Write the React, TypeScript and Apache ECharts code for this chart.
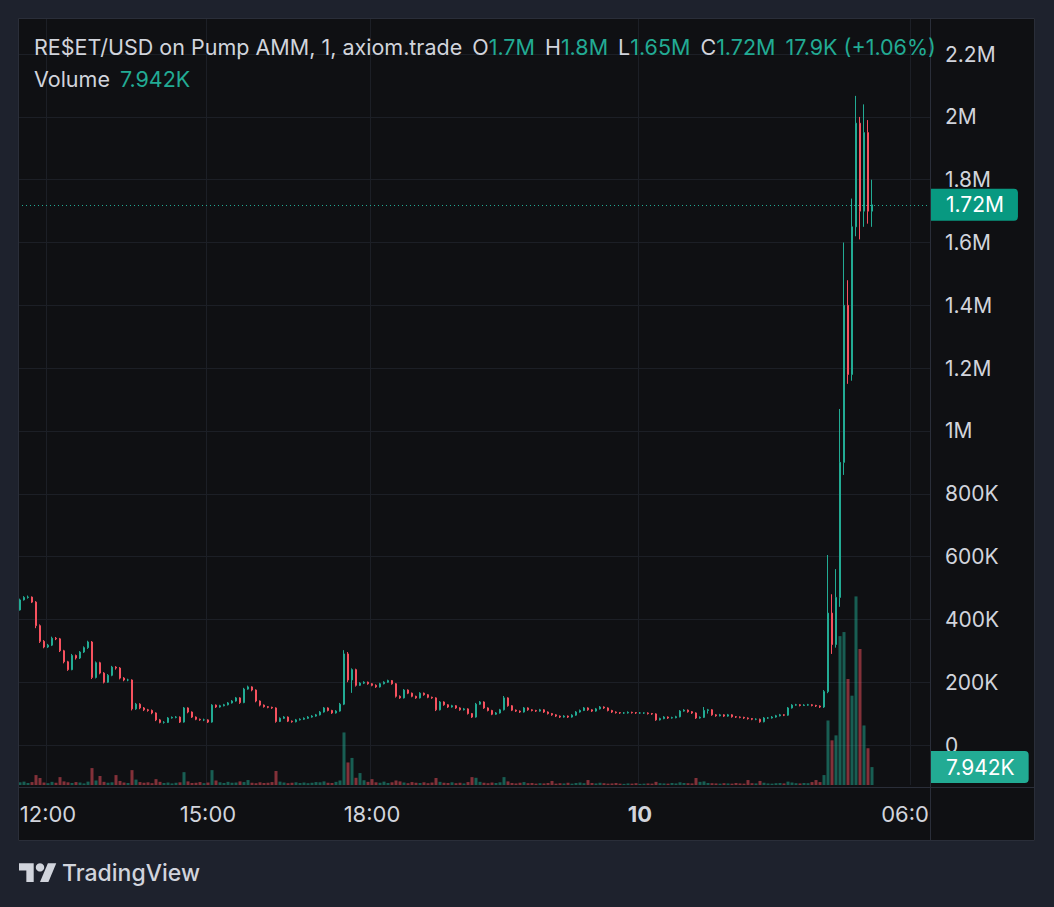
import React, { useEffect, useRef } from 'react';
import * as echarts from 'echarts';

// One candle per category: [open, close, low, high], prices in thousands of USD
const candles: number[][] = [
  [430,462,428,466],[462,470,460,474],[470,471,466,476],[471,455,452,473],[455,380,372,458],
  [380,330,325,384],[330,312,308,334],[312,318,309,322],[318,340,315,345],[340,338,334,344],
  [338,300,296,341],[300,265,260,303],[265,240,236,268],[240,285,238,290],[285,277,272,288],
  [277,296,274,299],[296,310,293,314],[310,328,306,332],[328,215,210,331],[215,262,212,266],
  [262,229,225,265],[229,200,196,232],[200,222,198,226],[222,248,219,252],[248,245,240,251],
  [245,213,209,248],[213,207,203,216],[207,207,203,211],[207,115,110,209],[115,130,112,134],
  [130,118,114,133],[118,112,108,121],[112,110,106,115],[110,102,98,113],[102,80,76,104],
  [80,72,69,83],[72,72,68,76],[72,86,70,89],[86,88,84,91],[88,89,85,92],
  [89,73,70,91],[73,118,71,121],[118,105,101,120],[105,89,86,107],[89,82,79,91],
  [82,80,77,84],[80,80,76,84],[80,73,70,82],[73,127,71,130],[127,121,118,129],
  [121,125,119,128],[125,128,123,131],[128,134,126,137],[134,140,132,143],[140,150,138,153],
  [150,135,131,152],[135,178,133,182],[178,185,176,189],[185,175,171,187],[175,140,136,177],
  [140,127,123,142],[127,122,119,129],[122,120,117,124],[120,118,115,122],[118,75,71,120],
  [75,85,73,88],[85,89,83,92],[89,76,73,91],[76,74,71,78],[74,80,72,83],
  [80,82,78,85],[82,85,80,88],[85,89,83,92],[89,92,87,95],[92,96,90,99],
  [96,105,94,108],[105,118,103,121],[118,110,107,120],[110,102,99,112],[102,108,100,111],
  [108,130,106,134],[130,290,127,302],[290,207,200,296],[207,240,166,244],[240,190,186,243],
  [190,197,188,200],[197,200,194,203],[200,195,192,202],[195,190,187,197],[190,185,182,193],
  [185,195,183,198],[195,200,193,203],[200,205,198,208],[205,195,192,207],[195,155,151,197],
  [155,150,147,158],[150,175,148,178],[175,165,162,177],[165,155,152,167],[155,150,147,157],
  [150,165,148,168],[165,160,157,167],[160,152,149,162],[152,150,147,154],[150,112,108,152],
  [112,137,110,140],[137,128,125,139],[128,121,118,130],[121,125,119,128],[125,118,115,127],
  [118,112,109,120],[112,115,110,118],[115,100,97,117],[100,89,86,102],[89,130,87,134],
  [130,137,128,140],[137,118,115,139],[118,110,107,120],[110,98,95,112],[98,102,96,105],
  [102,112,100,115],[112,150,110,156],[150,125,122,152],[125,111,108,127],[111,108,105,113],
  [108,105,102,110],[105,118,103,121],[118,112,109,120],[112,110,107,114],[110,108,105,112],
  [108,112,106,115],[112,105,102,114],[105,100,97,107],[100,96,93,102],[96,92,89,98],
  [92,89,86,94],[89,92,87,95],[92,89,86,94],[89,95,87,98],[95,105,93,108],
  [105,110,103,113],[110,118,108,121],[118,112,109,120],[112,108,105,114],[108,115,106,118],
  [115,121,113,124],[121,118,115,123],[118,110,107,120],[110,105,102,112],[105,103,100,107],
  [103,102,99,105],[102,102,99,105],[102,104,100,107],[104,103,100,106],[103,102,99,105],
  [102,102,99,105],[102,102,99,104],[102,100,97,104],[100,99,96,102],[99,80,77,101],
  [80,84,78,87],[84,89,82,92],[89,86,83,91],[86,87,84,90],[87,90,85,93],
  [90,108,88,111],[108,111,106,114],[111,106,103,113],[106,102,99,108],[102,86,83,104],
  [86,88,84,91],[88,110,86,121],[110,112,100,115],[112,96,93,114],[96,93,90,98],
  [93,96,91,99],[96,92,89,98],[92,96,90,99],[96,90,87,98],[90,89,86,92],
  [89,88,85,91],[88,86,83,90],[86,84,81,88],[84,82,79,86],[82,82,79,85],
  [82,74,71,84],[74,86,72,89],[86,86,83,89],[86,89,84,92],[89,93,87,96],
  [93,96,91,99],[96,95,92,98],[95,118,93,121],[118,127,116,130],[127,128,125,131],
  [128,126,123,130],[126,127,124,130],[127,128,125,131],[128,126,123,130],[126,124,121,128],
  [124,121,118,126],[121,170,118,175],[170,420,165,605],[420,320,290,480],[320,470,310,560],
  [470,900,440,1070],[900,1400,860,1600],[1400,1180,1150,1480],[1180,1650,1160,1740],[1650,1980,1620,2067],
  [1980,1700,1610,2000],[1700,1950,1650,2040],[1950,1700,1660,1990],[1700,1720,1650,1800],
];

// Volume per candle, thousands
const volumes: number[] = [
  1.2,1.5,0.9,1.3,4.4,3.1,1.1,0.8,1.4,1.0,
  3.5,1.6,1.2,0.9,1.3,1.1,0.7,1.5,7.5,2.0,
  4.0,1.4,1.0,1.2,4.4,1.8,1.1,0.9,6.6,2.4,
  1.3,1.0,1.2,0.8,2.6,1.4,0.9,1.1,0.7,1.0,
  1.2,5.7,1.6,0.9,1.0,1.3,0.8,1.1,6.6,2.0,
  1.2,0.9,1.4,1.0,1.1,1.6,1.3,2.2,1.0,0.8,
  1.2,0.9,1.0,1.3,6.2,1.5,1.1,0.8,1.0,1.2,
  0.9,1.1,0.8,1.0,1.3,1.2,1.6,1.0,0.9,1.4,
  2.0,23.3,10.0,12.0,3.2,5.3,2.1,1.4,2.6,1.2,
  1.0,1.5,0.9,1.2,2.0,1.6,1.1,0.8,1.3,1.0,
  0.9,1.2,0.8,1.1,3.1,1.4,1.0,0.9,1.2,0.8,
  1.0,0.7,1.3,3.5,3.2,1.4,1.0,0.8,1.1,0.9,
  1.2,3.5,1.6,0.9,0.7,1.0,1.3,0.8,0.9,0.6,
  0.8,0.7,0.9,1.8,0.6,0.8,0.7,1.0,0.6,0.9,
  1.1,0.8,2.2,0.9,0.7,1.0,0.8,0.6,0.7,0.9,
  0.6,0.5,0.7,0.6,0.8,0.5,0.6,0.7,0.6,1.4,
  0.8,0.7,0.6,0.9,0.7,1.2,0.9,0.8,0.7,3.1,
  1.4,1.6,0.9,0.8,0.7,0.6,0.8,0.7,0.6,0.9,
  0.7,0.6,2.2,0.8,0.7,1.8,1.0,0.7,0.6,0.8,
  0.9,0.7,1.5,1.1,0.8,0.7,0.9,0.8,1.3,2.2,
  1.3,4.4,28.6,19.8,22.0,66.0,67.8,47.0,39.6,83.6,60.3,26.4,16.3,7.942,
];

const slotCount = 228; // candle slots across the time axis (incl. empty right margin)
const timeLabelSlots = [7, 47, 88, 155, 223];
const timeLabels = ['12:00', '15:00', '18:00', '10', '06:00'];

const headerTitle = 'RE$ET/USD on Pump AMM, 1, axiom.trade';
const headerKeys = ['O', 'H', 'L', 'C'];
const headerOHLC = ['1.7M', '1.8M', '1.65M', '1.72M'];
const headerChange = '17.9K (+1.06%)';
const volumeLabel = '7.942K';

const UP = '#22ab94';
const DOWN = '#f7525f';
const UP_VOL = 'rgba(34,171,148,0.5)';
const DOWN_VOL = 'rgba(247,82,95,0.5)';
const OUTER = '#1e222d';
const PANEL = '#0f1013';
const BORDER = '#2a2e39';
const GRID = '#1c1f26';
const TEXT = '#d1d4dc';
const FONT = 'Inter, "Noto Sans", sans-serif';

function fmtPrice(v: number): string {
  if (v === 0) return '0';
  if (v >= 1000) return parseFloat((v / 1000).toFixed(2)) + 'M';
  return v + 'K';
}

export default function App() {
  const ref = useRef<HTMLDivElement>(null);

  useEffect(() => {
    if (!ref.current) return;
    const chart = echarts.init(ref.current, null, { renderer: 'svg' });

    const categories = Array.from({ length: slotCount }, (_, i) => {
      const k = timeLabelSlots.indexOf(i);
      return k >= 0 ? timeLabels[k] : '';
    });
    const last = candles[candles.length - 1];
    const volData = volumes.map((v, i) => ({
      value: v,
      itemStyle: { color: candles[i][1] >= candles[i][0] ? UP_VOL : DOWN_VOL },
    }));

    const hdr = { fontSize: 21.5, fontFamily: FONT };
    const headerRich = {
      w: { fill: TEXT, ...hdr },
      g: { fill: UP, ...hdr },
      s: { width: 10, ...hdr },
    };
    let line1 = `{w|${headerTitle}}`;
    headerKeys.forEach((k, i) => {
      line1 += `{s| }{w|${k}}{g|${headerOHLC[i]}}`;
    });
    line1 += `{s| }{g|${headerChange}}`;

    const option: any = {
      animation: false,
      backgroundColor: PANEL,
      textStyle: { fontFamily: FONT },
      grid: [
        { left: 18, right: 124, top: 18, bottom: 162 },
        { left: 18, right: 124, top: 18, bottom: 122 },
      ],
      xAxis: [
        {
          type: 'category', gridIndex: 0, data: categories, boundaryGap: true,
          axisLine: { show: false }, axisTick: { show: false }, axisLabel: { show: false },
          splitLine: { show: false },
        },
        {
          type: 'category', gridIndex: 1, data: categories, boundaryGap: true,
          axisLine: { show: false }, axisTick: { show: false },
          axisLabel: {
            interval: (_i: number, v: string) => v !== '',
            color: TEXT, fontSize: 22, fontFamily: FONT, margin: 18,
            formatter: (v: string) => (v === '10' ? '{b|10}' : v),
            rich: { b: { fontWeight: 'bold', fontSize: 22, color: TEXT, fontFamily: FONT } },
          },
          splitLine: {
            show: true,
            interval: (_i: number, v: string) => v !== '',
            lineStyle: { color: GRID, width: 1 },
          },
        },
      ],
      yAxis: [
        {
          type: 'value', gridIndex: 0, position: 'right', min: 0, max: 2315, interval: 200,
          axisLine: { show: false }, axisTick: { show: false },
          axisLabel: {
            showMaxLabel: false, color: TEXT, fontSize: 21, fontFamily: FONT, margin: 15,
            formatter: (v: number) => fmtPrice(v),
          },
          splitLine: { show: true, lineStyle: { color: GRID, width: 1 } },
        },
        {
          type: 'value', gridIndex: 1, min: 0, max: 340, show: false,
          splitLine: { show: false },
        },
      ],
      series: [
        {
          type: 'bar', name: 'Volume', xAxisIndex: 1, yAxisIndex: 1, data: volData,
          barWidth: 3, z: 1,
          markLine: {
            silent: true, symbol: ['none', 'none'], animation: false,
            data: [{ yAxis: volumes[volumes.length - 1] }],
            lineStyle: { color: 'rgba(0,0,0,0)', width: 0 },
            label: {
              show: true, position: 'end', distance: 0, formatter: volumeLabel,
              backgroundColor: '#22ab94', color: '#ffffff', fontSize: 21, fontFamily: FONT,
              padding: [6, 14, 5, 16], borderRadius: [0, 4, 4, 0],
            },
          },
        },
        {
          type: 'candlestick', name: 'Price', xAxisIndex: 0, yAxisIndex: 0, data: candles,
          barWidth: 2, z: 3,
          itemStyle: { color: UP, color0: DOWN, borderColor: UP, borderColor0: DOWN, borderWidth: 1 },
          markLine: {
            silent: true, symbol: ['none', 'none'], animation: false,
            data: [{ yAxis: last[1] }],
            lineStyle: { color: UP, type: [1, 3], width: 1 },
            label: {
              show: true, position: 'end', distance: 0, formatter: fmtPrice(last[1]),
              backgroundColor: '#089981', color: '#ffffff', fontSize: 21, fontFamily: FONT,
              padding: [6, 14, 5, 16], borderRadius: [0, 4, 4, 0],
            },
          },
        },
      ],
      graphic: [
        { type: 'rect', z: 99, silent: true, shape: { x: 931, y: 788, width: 104, height: 53 }, style: { fill: PANEL } },
        { type: 'rect', z: 100, silent: true, shape: { x: 0, y: 0, width: 1054, height: 18 }, style: { fill: OUTER } },
        { type: 'rect', z: 100, silent: true, shape: { x: 0, y: 0, width: 18, height: 907 }, style: { fill: OUTER } },
        { type: 'rect', z: 100, silent: true, shape: { x: 1035, y: 0, width: 19, height: 907 }, style: { fill: OUTER } },
        { type: 'rect', z: 100, silent: true, shape: { x: 0, y: 841, width: 1054, height: 66 }, style: { fill: OUTER } },
        { type: 'rect', z: 101, silent: true, shape: { x: 18.5, y: 18.5, width: 1016, height: 822 }, style: { fill: 'none', stroke: BORDER, lineWidth: 1 } },
        { type: 'line', z: 101, silent: true, shape: { x1: 930.5, y1: 18, x2: 930.5, y2: 841 }, style: { stroke: BORDER, lineWidth: 1 } },
        { type: 'line', z: 101, silent: true, shape: { x1: 18, y1: 787.5, x2: 1035, y2: 787.5 }, style: { stroke: BORDER, lineWidth: 1 } },
        {
          type: 'text', z: 102, silent: true, x: 34, y: 47,
          style: { text: line1, verticalAlign: 'middle', align: 'left', rich: headerRich },
        },
        {
          type: 'text', z: 102, silent: true, x: 34, y: 79,
          style: { text: `{w|Volume}{s| }{g|${volumeLabel}}`, verticalAlign: 'middle', align: 'left', rich: headerRich },
        },
        {
          type: 'group', z: 102, x: 19, y: 859, scaleX: 1.05, scaleY: 1.05, silent: true,
          children: [
            { type: 'polygon', z: 102, shape: { points: [[0, 4], [14, 4], [14, 22], [7, 22], [7, 11], [0, 11]] }, style: { fill: TEXT } },
            { type: 'polygon', z: 102, shape: { points: [[20, 22], [27.5, 4], [35.5, 4], [28, 22]] }, style: { fill: TEXT } },
            { type: 'circle', z: 102, shape: { cx: 20, cy: 8, r: 4 }, style: { fill: TEXT } },
          ],
        },
        {
          type: 'text', z: 102, silent: true, x: 62, y: 873,
          style: { text: 'TradingView', fill: TEXT, fontSize: 23, fontWeight: 500, fontFamily: FONT, verticalAlign: 'middle', align: 'left' },
        },
      ],
    };

    chart.setOption(option);
    return () => chart.dispose();
  }, []);

  return <div ref={ref} style={{ position: 'fixed', left: 0, top: 0, width: 1054, height: 907 }} />;
}
